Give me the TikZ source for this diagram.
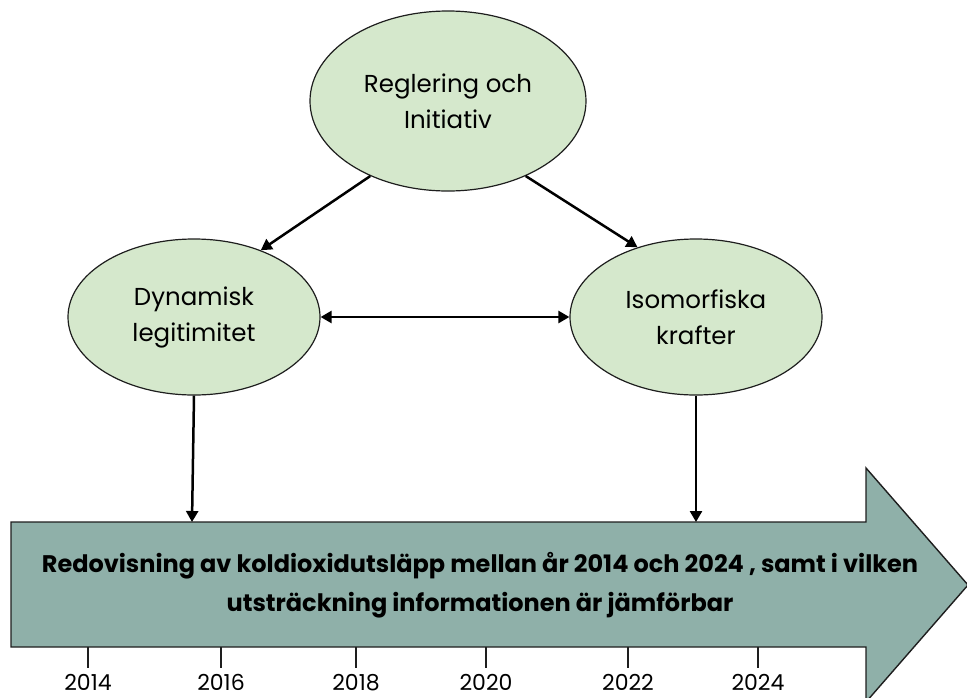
\documentclass[tikz,border=0pt]{standalone}
\usepackage{fontspec}
\setmainfont{Poppins}
\usetikzlibrary{arrows.meta,shapes.geometric}
\definecolor{ellfill}{RGB}{213,232,204}
\definecolor{arrfill}{RGB}{143,176,169}
\definecolor{edge}{RGB}{30,30,30}
\tikzset{
  ell/.style={ellipse,draw=edge,line width=1.2pt,fill=ellfill,inner sep=0pt,
    align=center,font=\fontsize{24.5}{36}\selectfont},
  conn/.style={line width=2.5pt,-{Triangle[length=11pt,width=12pt]}},
  dconn/.style={line width=2.5pt,{Triangle[length=11pt,width=12pt]}-{Triangle[length=11pt,width=12pt]}},
  tick/.style={line width=1.2pt,draw=edge},
  year/.style={font=\fontsize{22}{24}\selectfont}
}
\begin{document}
\begin{tikzpicture}[x=1pt,y=-1pt]
\useasboundingbox (0,0) rectangle (967,697);
% big arrow
\fill[arrfill,draw=edge,line width=1.4pt] (11,522) -- (866,522) -- (866,468) -- (968,585) -- (866,702) -- (866,647) -- (11,647) -- cycle;
\node[font=\bfseries\fontsize{24}{39}\selectfont,align=center] (band) at (480,585)
  {Redovisning av koldioxidutsläpp mellan år 2014 och 2024 , samt i vilken\\utsträckning informationen är jämförbar};
% ellipses
\node[ell,minimum width=276pt,minimum height=180pt] (top) at (448,101) {Reglering och\\Initiativ};
\node[ell,minimum width=252pt,minimum height=156pt] (left) at (194,317) {Dynamisk\\legitimitet};
\node[ell,minimum width=252pt,minimum height=156pt] (right) at (696,317) {Isomorfiska\\krafter};
\coordinate (bl) at (192,522);
\coordinate (br) at (696,522);
\draw[conn] (top.224) -- (left.45);
\draw[conn] (top.316) -- (right.130);
\draw[dconn] (left.east) -- (right.west);
\draw[conn] (left.south) -- (bl);
\draw[conn] (right.south) -- (br);
% ticks
\foreach \x/\y [count=\i] in {88/2014,221/2016,356/2018,486/2020,628/2022,758/2024}{
  \coordinate (t\i) at (\x,647);
  \draw[tick] (t\i) -- ++(0,21);
  \node[year,anchor=base] (y\i) at (\x,690) {\y};
}
\end{tikzpicture}
\end{document}
